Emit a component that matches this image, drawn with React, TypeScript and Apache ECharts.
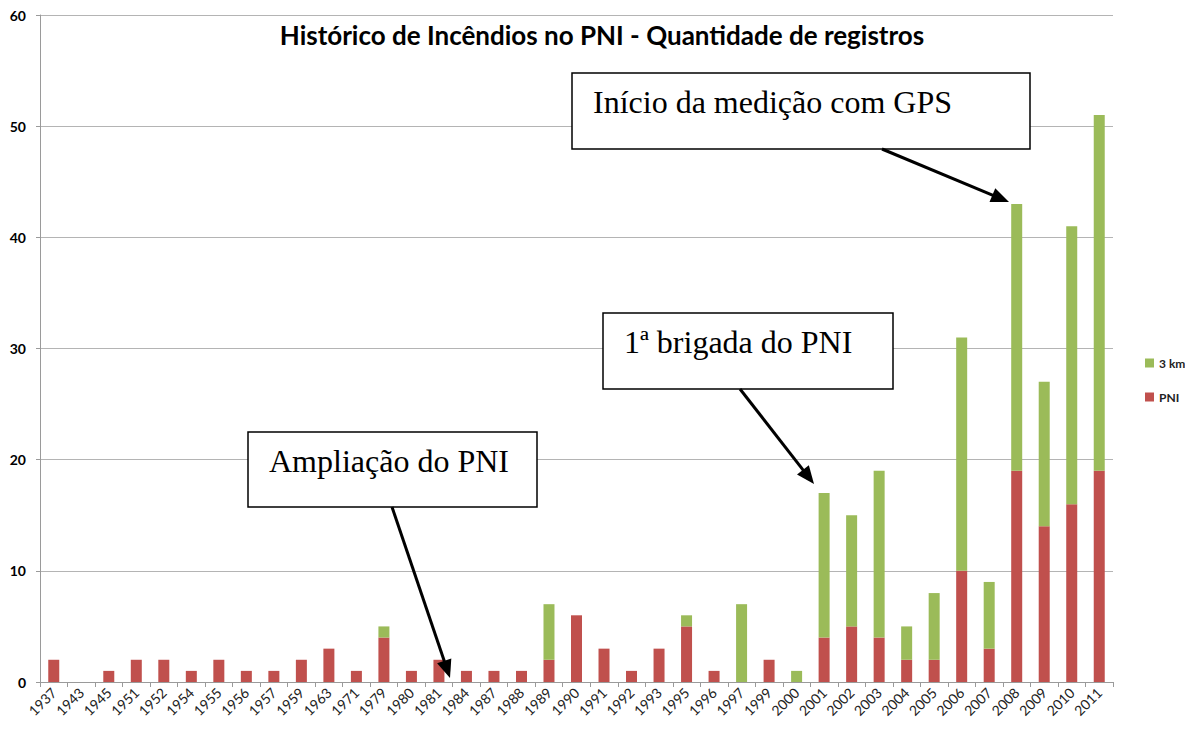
import React, { useEffect, useRef } from "react";
import * as echarts from "echarts";

const categories = [
  "1937", "1943", "1945", "1951", "1952", "1954", "1955", "1956", "1957", "1959",
  "1963", "1971", "1979", "1980", "1981", "1984", "1987", "1988", "1989", "1990",
  "1991", "1992", "1993", "1995", "1996", "1997", "1999", "2000", "2001", "2002",
  "2003", "2004", "2005", "2006", "2007", "2008", "2009", "2010", "2011",
];

const pniValues = [
  2, 0, 1, 2, 2, 1, 2, 1, 1, 2,
  3, 1, 4, 1, 2, 1, 1, 1, 2, 6,
  3, 1, 3, 5, 1, 0, 2, 0, 4, 5,
  4, 2, 2, 10, 3, 19, 14, 16, 19,
];

const km3Values = [
  0, 0, 0, 0, 0, 0, 0, 0, 0, 0,
  0, 0, 1, 0, 0, 0, 0, 0, 5, 0,
  0, 0, 0, 1, 0, 7, 0, 1, 13, 10,
  15, 3, 6, 21, 6, 24, 13, 25, 32,
];

const yTicks = [0, 10, 20, 30, 40, 50, 60];

const annotations = [
  { text: "Início da medição com GPS", box: [572, 73, 458, 76], from: [882, 149], to: [1009, 202] },
  { text: "1ª brigada do PNI", box: [603, 313, 290, 76], from: [740, 389], to: [814, 484] },
  { text: "Ampliação do PNI", box: [248, 432, 289, 75], from: [392, 507], to: [450, 678] },
];

function arrow(from: number[], to: number[]) {
  const dx = to[0] - from[0];
  const dy = to[1] - from[1];
  const len = Math.sqrt(dx * dx + dy * dy);
  const ux = dx / len;
  const uy = dy / len;
  const L = 18;
  const W = 15;
  const bx = to[0] - ux * L;
  const by = to[1] - uy * L;
  const nx = -uy;
  const ny = ux;
  return [
    {
      type: "line",
      shape: { x1: from[0], y1: from[1], x2: bx + ux * 2, y2: by + uy * 2 },
      style: { stroke: "#000", lineWidth: 3 },
      z: 100,
    },
    {
      type: "polygon",
      shape: {
        points: [
          [to[0], to[1]],
          [bx + (nx * W) / 2, by + (ny * W) / 2],
          [bx - (nx * W) / 2, by - (ny * W) / 2],
        ],
      },
      style: { fill: "#000" },
      z: 100,
    },
  ];
}

export default function App() {
  const ref = useRef<HTMLDivElement>(null);
  useEffect(() => {
    if (!ref.current) return;
    const chart = echarts.init(ref.current, null, { renderer: "svg" });
    const graphics: any[] = [];
    annotations.forEach((a) => {
      graphics.push({
        type: "rect",
        shape: { x: a.box[0], y: a.box[1], width: a.box[2], height: a.box[3] },
        style: { fill: "#fff", stroke: "#000", lineWidth: 1.5 },
        z: 90,
      });
      graphics.push({
        type: "text",
        x: a.box[0] + 21,
        y: a.box[1] + 29,
        style: {
          text: a.text,
          font: "32px 'Liberation Serif', 'Times New Roman', serif",
          fill: "#000",
          verticalAlign: "middle",
        },
        z: 95,
      });
      graphics.push(...arrow(a.from, a.to));
    });

    chart.setOption({
      animation: false,
      backgroundColor: "#fff",
      title: {
        text: "Histórico de Incêndios no PNI - Quantidade de registros",
        left: 597,
        textAlign: "center",
        top: 17,
        textStyle: {
          fontFamily: "Lato, 'Open Sans', sans-serif",
          fontWeight: "bold",
          fontSize: 26,
          color: "#000",
        },
      },
      legend: {
        data: ["3 km", "PNI"],
        orient: "vertical",
        left: 1140,
        top: 352,
        itemWidth: 9,
        itemHeight: 9,
        itemGap: 22,
        icon: "rect",
        textStyle: {
          fontFamily: "Lato, 'Open Sans', sans-serif",
          fontWeight: "bold",
          fontSize: 12,
          color: "#222",
        },
      },
      grid: { left: 40, right: 80, top: 15, bottom: 51 },
      xAxis: {
        type: "category",
        data: categories,
        axisLine: { lineStyle: { color: "#9a9a9a" } },
        axisTick: { show: true, length: 5, lineStyle: { color: "#9a9a9a" } },
        axisLabel: {
          rotate: 45,
          interval: 0,
          fontFamily: "Lato, 'Open Sans', sans-serif",
          fontSize: 14,
          color: "#222",
          margin: 8,
        },
      },
      yAxis: {
        type: "value",
        min: yTicks[0],
        max: yTicks[yTicks.length - 1],
        interval: 10,
        axisLine: { show: true, lineStyle: { color: "#9a9a9a" } },
        axisTick: { show: true, length: 4, lineStyle: { color: "#9a9a9a" } },
        splitLine: { lineStyle: { color: "#b4b4b4" } },
        axisLabel: {
          fontFamily: "Lato, 'Open Sans', sans-serif",
          fontWeight: "bold",
          fontSize: 14,
          color: "#000",
          margin: 14,
        },
      },
      series: [
        {
          name: "PNI",
          type: "bar",
          stack: "total",
          data: pniValues,
          barWidth: 11,
          itemStyle: { color: "#C0504D" },
        },
        {
          name: "3 km",
          type: "bar",
          stack: "total",
          data: km3Values,
          barWidth: 11,
          itemStyle: { color: "#9BBB59" },
        },
      ],
      graphic: graphics,
    });
    return () => chart.dispose();
  }, []);
  return <div ref={ref} style={{ width: 1193, height: 733, margin: -8 }} />;
}
